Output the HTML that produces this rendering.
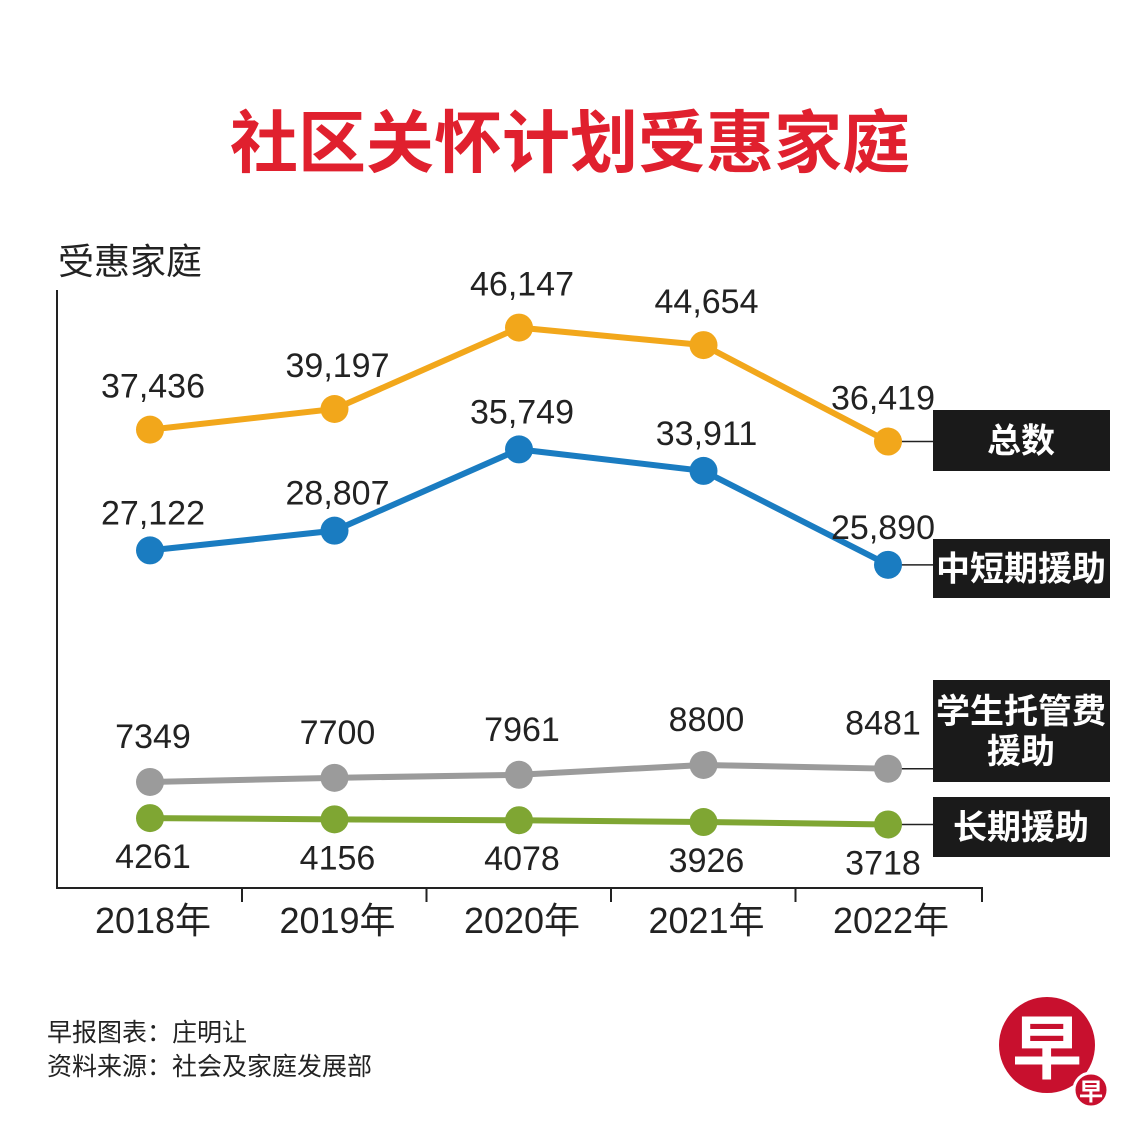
<!DOCTYPE html>
<html><head><meta charset="utf-8"><style>
body{margin:0;background:#fff;}
svg{display:block;font-family:"Liberation Sans","Noto Sans CJK SC",sans-serif;}
</style></head><body>
<svg id="c" width="1140" height="1140" viewBox="0 0 1140 1140">
<text x="570" y="167" text-anchor="middle" font-size="68" font-weight="bold" fill="#e0202e">社区关怀计划受惠家庭</text>
<text x="58" y="274" font-size="36" fill="#222">受惠家庭</text>
<g id="axes"></g><g id="marks"></g>
<text x="47" y="1041" font-size="25" fill="#222">早报图表：庄明让</text>
<text x="47" y="1075" font-size="25" fill="#222">资料来源：社会及家庭发展部</text>
<g>
<circle cx="1047" cy="1045" r="48" fill="#c8102e"/>
<text x="1047" y="1073" text-anchor="middle" font-size="70" font-weight="bold" fill="#fff">早</text>
<circle cx="1091" cy="1090" r="17" fill="#c8102e" stroke="#fff" stroke-width="3"/>
<text x="1091" y="1100" text-anchor="middle" font-size="24" font-weight="bold" fill="#fff">早</text>
</g>
</svg>
<script>
const categories=["2018年","2019年","2020年","2021年","2022年"];
const totalValues=[37436,39197,46147,44654,36419];
const shortTermValues=[27122,28807,35749,33911,25890];
const studentCareValues=[7349,7700,7961,8800,8481];
const longTermValues=[4261,4156,4078,3926,3718];
const seriesNames=["总数","中短期援助","学生托管费援助","长期援助"];
const NS="http://www.w3.org/2000/svg";
const svg=document.getElementById('c'),axes=document.getElementById('axes'),marks=document.getElementById('marks');
function xPos(i){return 150+i*184.5;}
function yPos(v){return 868-v*0.01171;}
function mk(tag,attrs,parent,txt){const e=document.createElementNS(NS,tag);for(const k in attrs)e.setAttribute(k,attrs[k]);if(txt!=null)e.textContent=txt;parent.appendChild(e);return e;}
let e=mk('path',{d:'M57 290V888H982V902',fill:'none',stroke:'#222','stroke-width':2},axes);


categories.forEach((c,i)=>{
 if(i<4){const t=mk('line',{x1:xPos(i)+92,x2:xPos(i)+92,y1:888,y2:902,stroke:'#222','stroke-width':2},axes);
 
 }
 const l=mk('text',{x:xPos(i)+3,y:933,'text-anchor':'middle','font-size':36,fill:'#222'},axes,c);
 
 
});
const fmt=v=>v.toLocaleString('en-US');
const series=[
 {vals:totalValues,color:'#f2a71b',off:-32,comma:true,box:[410,471],name:'total'},
 {vals:shortTermValues,color:'#1a7cc1',off:-26,comma:true,box:[539,598],name:'short-term'},
 {vals:studentCareValues,color:'#9b9b9b',off:-34,comma:false,box:[680,782],name:'student-care'},
 {vals:longTermValues,color:'#7fa633',off:50,comma:false,box:[797,857],name:'long-term'}];
series.forEach((s,si)=>{
 const pts=s.vals.map((v,i)=>[xPos(i),yPos(v)]);
 const last=pts[4];
 const cl=mk('line',{x1:last[0],y1:last[1],x2:933,y2:last[1],stroke:'#222','stroke-width':1.5},marks);
 
 
 const p=mk('polyline',{points:pts.map(p=>p.join(',')).join(' '),fill:'none',stroke:s.color,'stroke-width':6},marks);
 
 
 pts.forEach((pt,i)=>{
  const c=mk('circle',{cx:pt[0],cy:pt[1],r:14,fill:s.color},marks);
  
  
  const dx=i===4?-5:3;
  const t=mk('text',{x:pt[0]+dx,y:pt[1]+s.off,'text-anchor':'middle','font-size':34,fill:'#222'},marks,s.comma?fmt(s.vals[i]):String(s.vals[i]));
  
  
 });
 const b=mk('rect',{x:933,y:s.box[0],width:177,height:s.box[1]-s.box[0],fill:'#1a1a1a'},marks);
 
 
 const nm=seriesNames[si];
 const lines=nm.length>5?[nm.slice(0,5),nm.slice(5)]:[nm];
 const mid=(s.box[0]+s.box[1])/2;
 lines.forEach((ln,li)=>{
  const t=mk('text',{x:1021,y:mid+12+(li-(lines.length-1)/2)*40,'text-anchor':'middle','font-size':34,'font-weight':'bold',fill:'#fff'},marks,ln);
  
  
 });
});
</script>
</body></html>
